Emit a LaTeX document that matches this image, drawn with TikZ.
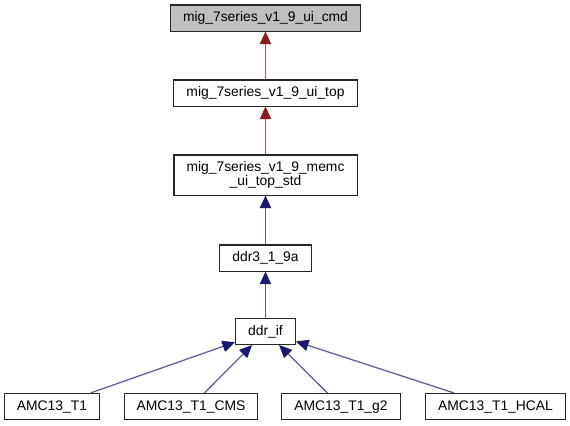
\documentclass[tikz,border=0pt]{standalone}
\usepackage{fontspec}
\setmainfont{Liberation Sans}
\usetikzlibrary{positioning, arrows.meta}
\definecolor{inhblue}{HTML}{191970}
\definecolor{inhred}{HTML}{8B1A1A}
\definecolor{rootgray}{HTML}{BFBFBF}

\begin{document}
\begin{tikzpicture}[
    node distance=56.25pt,
    on grid,
    every node/.style={font=\fontsize{10.4}{10.5}\selectfont},
    cls/.style={draw=black!85, line width=0.8pt, fill=white, inner xsep=9.4pt, inner ysep=4.9pt,
                text height=7.5pt, text depth=2.25pt, align=center},
    every edge/.append style={line width=0.95pt},
    blueedge/.style={draw=inhblue!70, >={Triangle[length=9.5pt, width=8.5pt, color=inhblue]}},
    rededge/.style={draw=inhred!70, >={Triangle[length=9.5pt, width=8.5pt, color=inhred]}}
]
   \useasboundingbox (0,0) rectangle (427.5pt,-318.75pt);

   % Classes
   \node[cls, fill=rootgray] (cmd) at (199.125pt,-13.5pt) {mig\_7series\_v1\_9\_ui\_cmd}; % root
   \node[cls] (uitop) [below=of cmd] {mig\_7series\_v1\_9\_ui\_top};
   \node[cls, text height=18pt] (memc) [below=61.5pt of uitop] {mig\_7series\_v1\_9\_memc\\\_ui\_top\_std};
   \node[cls] (ddr3) [below=62.25pt of memc] {ddr3\_1\_9a};
   \node[cls] (ddrif) [below=55.125pt of ddr3] {ddr\_if};
   \node[cls] (t1) [below left=56.25pt and 160.125pt of ddrif] {AMC13\_T1};
   \node[cls] (cms) [right=104.25pt of t1] {AMC13\_T1\_CMS};
   \node[cls] (g2) [right=112.5pt of cms] {AMC13\_T1\_g2};
   \node[cls] (hcal) [right=115.875pt of g2] {AMC13\_T1\_HCAL};

   % Inheritance
   \path[->]
   (uitop) edge[rededge] (cmd)
   (memc) edge[rededge] (uitop)
   (ddr3) edge[blueedge] (memc)
   (ddrif) edge[blueedge] (ddr3)
   (t1) edge[blueedge] (ddrif)
   (cms) edge[blueedge] (ddrif)
   (g2) edge[blueedge] (ddrif)
   (hcal) edge[blueedge] (ddrif);

\end{tikzpicture}
\end{document}
